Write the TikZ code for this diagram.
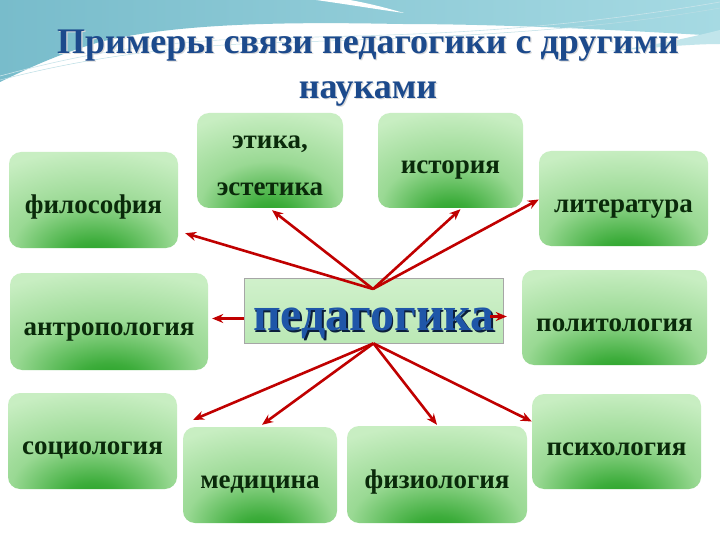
\documentclass[tikz,border=0pt]{standalone}
\usepackage{fontspec}
\setmainfont{Liberation Serif}
\usetikzlibrary{arrows.meta}
\definecolor{tealA}{HTML}{78BCCB}
\definecolor{tealB}{HTML}{A6DAE3}
\definecolor{titleblue}{HTML}{1C4A8C}
\definecolor{gLight}{HTML}{C8EEC2}
\definecolor{gMid}{HTML}{86D080}
\definecolor{gDark}{HTML}{1E9E1E}
\definecolor{labelc}{HTML}{0A2A0A}
\definecolor{arrowred}{HTML}{C00000}
\definecolor{pedblue}{HTML}{1F56A8}
\pgfdeclareradialshading{boxshade}{\pgfpoint{0bp}{-32bp}}{%
  color(0bp)=(gDark); color(8bp)=(gDark!70!gMid); color(24bp)=(gMid!70!gLight);
  color(44bp)=(gLight); color(100bp)=(gLight)}
\tikzset{
  gboxbase/.style={rounded corners=12pt, shading=boxshade, draw=none,
    text=labelc, align=center, inner sep=0pt},
  gbox/.style={gboxbase, font=\bfseries\fontsize{27}{32}\selectfont,
    text height=27pt, text depth=0pt},
  arr/.style={draw=arrowred, line width=2.6pt, -{Stealth[length=11pt,width=9pt]}},
  pedbox/.style={draw=gray!70, line width=0.8pt, top color=gLight!85!white,
    bottom color=gLight!80!gMid, minimum width=259pt, minimum height=65pt},
  titlefont/.style={font=\bfseries\fontsize{36}{45}\selectfont, align=center},
  pedfont/.style={font=\bfseries\fontsize{48}{48}\selectfont, anchor=base}
}
\begin{document}
\begin{tikzpicture}[x=1pt,y=-1pt]
\useasboundingbox (0,0) rectangle (720,540);
\fill[white] (0,0) rectangle (720,540);
% top wave
\shade[left color=tealA, right color=tealB] (0,0) -- (720,0) -- (720,36)
  .. controls (620,30) and (500,24) .. (400,24)
  .. controls (300,22) and (180,22) .. (100,42)
  .. controls (55,55) and (25,70) .. (0,82) -- cycle;
\fill[white] (316,0) -- (350,0) .. controls (372,4) and (390,9) .. (404,13)
  .. controls (375,9) and (345,4) .. (316,0) -- cycle;
\fill[tealB!70!white] (720,30) .. controls (680,40) and (640,48) .. (600,52)
  .. controls (650,48) and (690,44) .. (720,44) -- cycle;
\draw[white!60!tealA, line width=0.6pt] (0,76) .. controls (60,60) and (120,46) .. (220,40)
  .. controls (350,34) and (500,40) .. (720,2);
\draw[white!50!tealA, line width=0.5pt] (0,80) .. controls (70,62) and (140,50) .. (240,44)
  .. controls (400,38) and (560,36) .. (720,8);
% title
\node[titlefont, text=black!15] at (369.2,69.2) {Примеры связи педагогики с другими\\ науками};
\node[titlefont, text=titleblue] (title) at (368,68) {Примеры связи педагогики с другими\\ науками};
% boxes
\node[gbox, minimum width=169pt, minimum height=96pt] (fil) at (93.5,200) {философия};
\node[gbox, minimum width=198pt, minimum height=97pt] (ant) at (109,321.5) {антропология};
\node[gboxbase, minimum width=146pt, minimum height=95pt] (eti) at (270,160.5) {};
\node[font=\bfseries\fontsize{27}{47}\selectfont, text=labelc, align=center, inner sep=0pt]
  (etit) at (270,166) {этика,\\эстетика};
\node[gbox, minimum width=145pt, minimum height=95pt] (ist) at (450.5,160.5) {история};
\node[gbox, minimum width=169pt, minimum height=95pt] (lit) at (623.5,198.5) {литература};
\node[gbox, minimum width=185pt, minimum height=95pt] (pol) at (614.5,317.5) {политология};
\node[gbox, minimum width=169pt, minimum height=96pt] (soc) at (92.5,441) {социология};
\node[gbox, minimum width=154pt, minimum height=96pt] (med) at (260,475) {медицина};
\node[gbox, minimum width=180pt, minimum height=97pt] (fiz) at (437,474.5) {физиология};
\node[gbox, minimum width=169pt, minimum height=95pt] (psy) at (616.5,441.5) {психология};
% central
\node[pedbox] (ped) at (373.5,310.5) {};
\node[pedfont, text=pedblue!35!black] at (375.5,332) {педагогика};
\node[pedfont, text=pedblue] (pedt) at (374,330.5) {педагогика};
\coordinate (htop) at (373,289);
% arrows
\draw[arr] (htop) -- ([xshift=7pt,yshift=15pt]fil.south east);
\draw[arr] (htop) -- ([xshift=2pt,yshift=-2pt]eti.south);
\draw[arr] (htop) -- ([xshift=10pt,yshift=-1pt]ist.south);
\draw[arr] (htop) -- ([yshift=-1pt]lit.west);
\draw[arr, shorten >=4pt] ([yshift=-8pt]ped.west) -- ([yshift=-8pt]ped.west -| ant.east);
\draw[arr, shorten >=2pt] ([xshift=-13pt,yshift=-6pt]ped.east) -- ([xshift=-13pt,yshift=-6pt]ped.east -| pol.west);
\draw[arr] (ped.south) -- ([xshift=16pt,yshift=-27pt]soc.north east);
\draw[arr] (ped.south) -- ([xshift=2pt,yshift=2pt]med.north);
\draw[arr] (ped.south) -- ([yshift=1pt]fiz.north);
\draw[arr] (ped.south) -- ([yshift=20pt]psy.west);
\end{tikzpicture}
\end{document}
